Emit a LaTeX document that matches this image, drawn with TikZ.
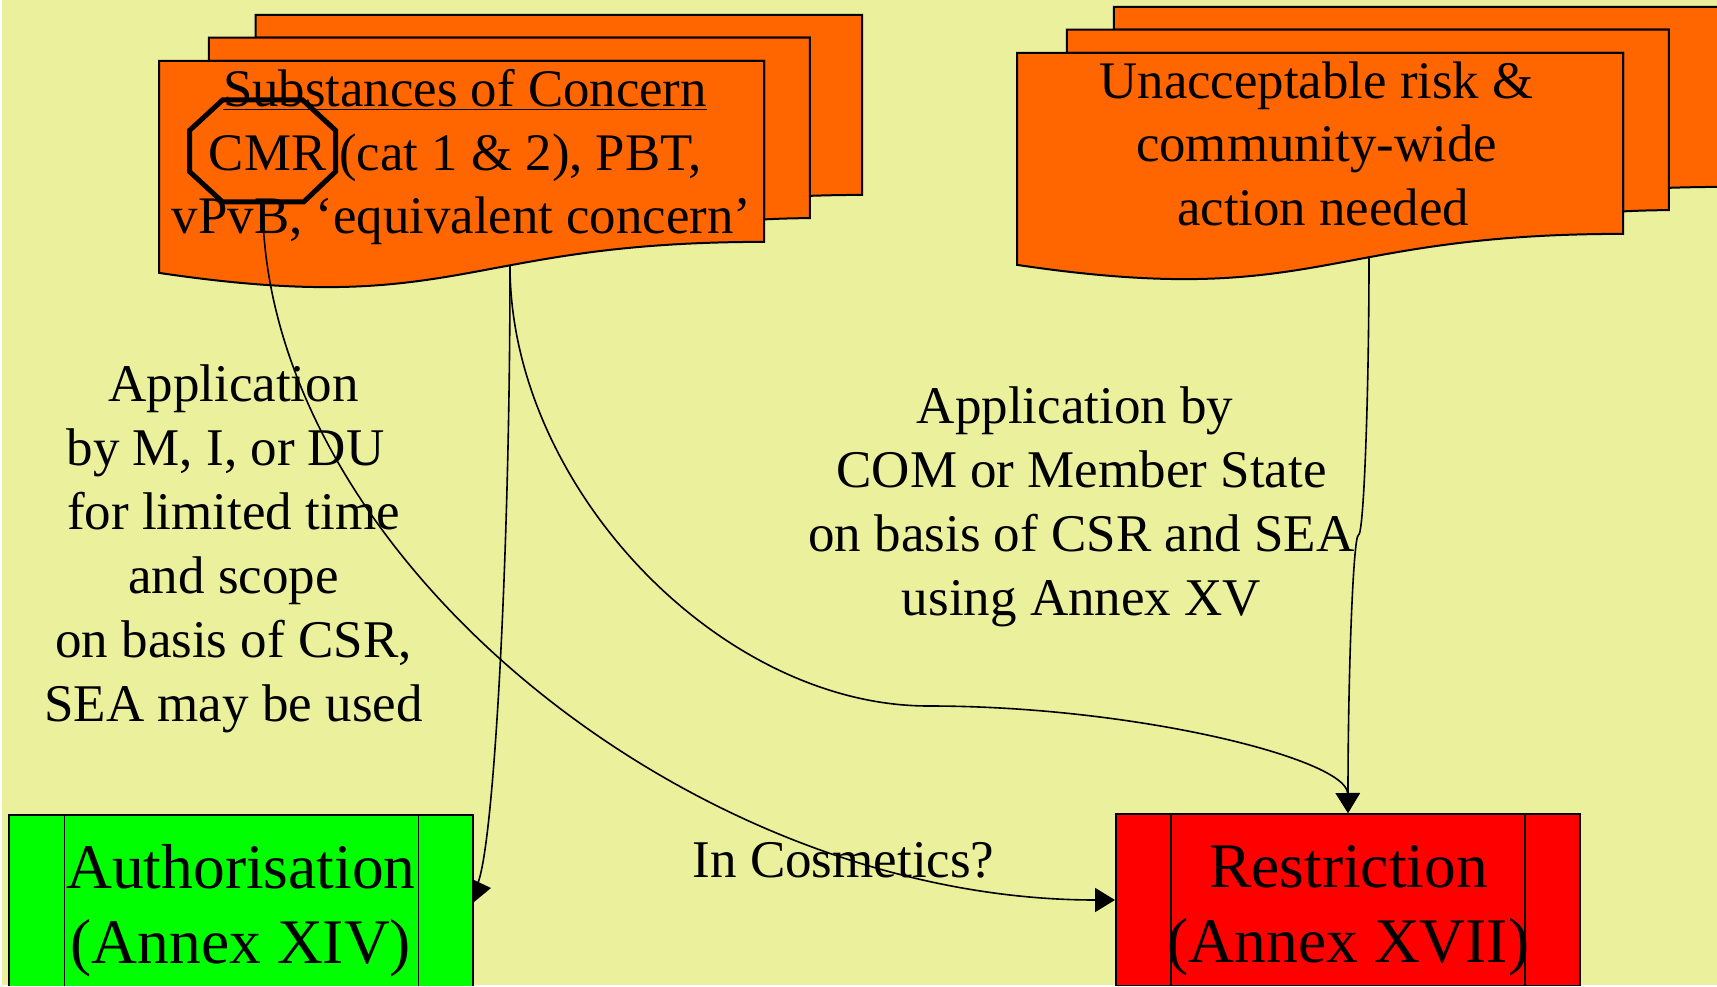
\documentclass[tikz,border=0pt]{standalone}
\usepackage{fontspec}
\setmainfont{Liberation Serif}
\usetikzlibrary{arrows.meta,calc}
\definecolor{bgyellow}{RGB}{235,240,157}
\definecolor{docorange}{RGB}{255,102,0}
\definecolor{authgreen}{RGB}{0,255,0}
\definecolor{restred}{RGB}{255,0,0}
\tikzset{
  docline/.style={fill=docorange, draw=black, line width=2pt, line join=miter},
  lbl/.style={inner sep=0pt, outer sep=0pt, anchor=base, font=\fontsize{53}{64}\selectfont},
  doctext/.style={inner sep=0pt, outer sep=0pt, anchor=base, font=\fontsize{52.8}{63.5}\selectfont},
  boxtext/.style={inner sep=0pt, outer sep=0pt, anchor=base, font=\fontsize{63.5}{75}\selectfont},
  procbox/.style={draw=black, line width=2pt, minimum width=464pt, minimum height=172pt, inner sep=0pt},
  innerline/.style={draw=black, line width=1.5pt},
  conn/.style={draw=black, line width=1.6pt},
  arr/.style={-{Triangle[length=20pt,width=24pt]}},
}
\newcommand{\multidoc}[4]{%
\begin{scope}[shift={(#1,#2)},xscale=#3/216,yscale=#4/216]
\filldraw[docline] (29.72,18.15) -- (29.72,0) -- (216,0) -- (216,143.92)
  .. controls (208,143.92) and (200,144.67) .. (200,144.67) -- (200,18.15) -- cycle;
\filldraw[docline] (15.32,36.75) -- (15.32,18.15) -- (200,18.15) -- (200,162.52)
  .. controls (192.98,162.52) and (185.95,163.52) .. (185.95,163.52) -- (185.95,36.75) -- cycle;
\filldraw[docline] (0,36.75) -- (185.95,36.75) -- (185.95,181.5)
  .. controls (92.98,181.5) and (92.98,242.3) .. (0,206.3) -- cycle;
\end{scope}}
\begin{document}
\begin{tikzpicture}[x=1pt,y=-1pt]
\useasboundingbox (0,0) rectangle (1717,987);
\fill[white] (0,0) rectangle (1717,987);
\begin{scope}
\clip (0,0) rectangle (1717,985);
\fill[bgyellow] (2,0) rectangle (1717,985);

% stacked documents
\multidoc{159}{15}{703}{270}
\multidoc{1017}{7}{704}{270}

% document texts
\node[doctext] (soc) at (461.5,107) {\begin{tabular}[t]{@{}c@{}}\kern7pt\underline{Substances of Concern}\\CMR (cat 1 \& 2), PBT,\kern12pt\\vPvB, ‘equivalent concern’\end{tabular}};
\node[doctext] (risk) at (1316.5,98.5) {\begin{tabular}[t]{@{}c@{}}Unacceptable risk \&\\community-wide\\\kern13pt action needed\end{tabular}};

% CMR octagon
\node[inner sep=0pt, outer sep=0pt, minimum width=146pt, minimum height=102pt] (cmr) at (262.6,151) {};
\draw[line width=5pt, line join=miter]
  ([xshift=-40pt]cmr.north) -- ([xshift=40pt]cmr.north)
  -- ([yshift=20.6pt]cmr.east) -- ([yshift=-20.6pt]cmr.east)
  -- ([xshift=41pt]cmr.south) -- ([xshift=-40pt]cmr.south)
  -- ([yshift=-20.6pt]cmr.west) -- ([yshift=20.6pt]cmr.west) -- cycle;

% labels
\node[lbl] (authlbl) at (233.5,401.7) {\begin{tabular}[t]{@{}c@{}}Application\\by M, I, or DU\kern16pt\\for limited time\\and scope\\on basis of CSR,\\SEA may be used\end{tabular}};
\node[lbl] (restrlbl) at (1081.5,423.3) {\begin{tabular}[t]{@{}c@{}}Application by\kern13pt\\COM or Member State\\on basis of CSR and SEA\\using Annex XV\end{tabular}};
\node[lbl] (cosm) at (843.6,877.3) {In Cosmetics?};

% target boxes
\node[procbox, fill=authgreen] (auth) at (241,901) {};
\draw[innerline] ([xshift=56.7pt]auth.north west) -- ([xshift=56.7pt]auth.south west);
\draw[innerline] ([xshift=-55.7pt]auth.north east) -- ([xshift=-55.7pt]auth.south east);
\node[procbox, fill=restred] (restr) at (1348,900) {};
\draw[innerline] ([xshift=56pt]restr.north west) -- ([xshift=56pt]restr.south west);
\draw[innerline] ([xshift=-56pt]restr.north east) -- ([xshift=-56pt]restr.south east);
\node[boxtext] (authtxt) at (241,888.3) {\begin{tabular}[t]{@{}c@{}}Authorisation\\(Annex XIV)\end{tabular}};
\node[boxtext] (restrtxt) at (1348.5,887.7) {\begin{tabular}[t]{@{}c@{}}Restriction\\(Annex XVII)\end{tabular}};

% connector end points
\coordinate (aout) at (510,266);
\coordinate (bout) at (1369,257);
\coordinate (authin) at ([yshift=13pt]auth.east);

% connectors
\draw[conn, arr] (cmr.south) .. controls (263,551) and (688.5,900) .. (restr.west);
\draw[conn] (aout) .. controls (510,577) and (491.5,888) .. (authin);
\fill (authin) ++(0,-8) -- ++(17,8) -- ++(-17,14) -- cycle;
\draw[conn, arr] (aout) .. controls (510,486) and (719.25,706) .. (928.5,706)
  .. controls (1137.75,706) and (1347,759.5) .. (restr.north);
\draw[conn, arr] (bout) .. controls (1369,396) and (1363.75,535) .. (1358.5,535)
  .. controls (1353.25,535) and (1348,674) .. (restr.north);
\end{scope}
\end{tikzpicture}
\end{document}
